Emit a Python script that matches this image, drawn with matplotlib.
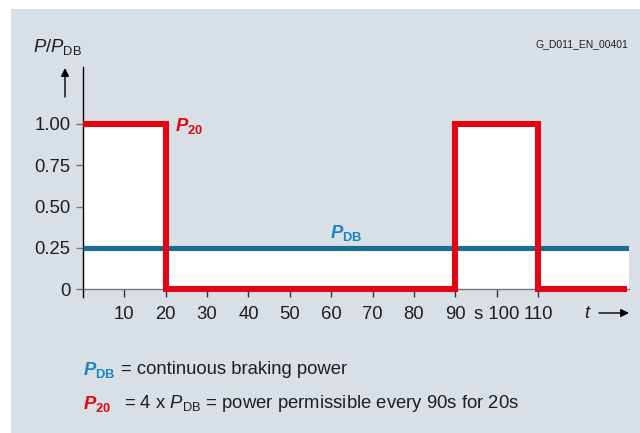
import numpy as np
import matplotlib
matplotlib.use('Agg')
import matplotlib.pyplot as plt
from matplotlib.patches import Rectangle

plt.rcParams['font.family'] = ['Liberation Sans', 'DejaVu Sans']
plt.rcParams['mathtext.fontset'] = 'custom'
plt.rcParams['mathtext.rm'] = 'Liberation Sans'
plt.rcParams['mathtext.it'] = 'Liberation Sans:italic'
plt.rcParams['mathtext.bf'] = 'Liberation Sans:bold'
plt.rcParams['mathtext.bfit'] = 'Liberation Sans:bold:italic'

# braking cycle: P20 steps between full load and zero
t_edges = [0, 20, 90, 110, 132]
p20_levels = [1.0, 0.0, 1.0, 0.0]
p_db = 0.25
x_ticks = [10, 20, 30, 40, 50, 60, 70, 80, 90, 100, 110]
x_ticklabels = ['10', '20', '30', '40', '50', '60', '70', '80', '90', 's 100', '110']
y_ticks = [0, 0.25, 0.5, 0.75, 1.0]
y_ticklabels = ['0', '0.25', '0.50', '0.75', '1.00']

RED = '#e00613'
BLUE_LINE = '#1d6c95'
BLUE_TEXT = '#1a82c6'
BG = '#d8dfe5'
TXT = '#1e1e1e'
FS = 13.3

W, H = 640, 433
fig = plt.figure(figsize=(6.4, 4.33), dpi=100)
fig.patch.set_facecolor('white')
fig.patches.append(Rectangle((11 / W, 0), 1 - 11 / W, 1 - 9 / H,
                             transform=fig.transFigure, facecolor=BG,
                             edgecolor='none', zorder=-10))

# axes placement in pixels
x0_px, px_per_t = 83, (538 - 83) / 110
y0_px, px_per_p = 289, 165
t_max = t_edges[-1]
ylo, yhi = -0.05, 1.345
ax_left = x0_px
ax_right = x0_px + t_max * px_per_t
ax_bottom = H - (y0_px - ylo * px_per_p)
ax_top = H - (y0_px - yhi * px_per_p)
ax = fig.add_axes([ax_left / W, ax_bottom / H,
                   (ax_right - ax_left) / W, (ax_top - ax_bottom) / H])
ax.set_facecolor('none')
ax.set_xlim(0, t_max)
ax.set_ylim(ylo, yhi)

t_step = np.array(t_edges, dtype=float)
p_step = np.array(p20_levels + [p20_levels[-1]], dtype=float)
upper = np.maximum(p_step, p_db)
ax.fill_between(t_step, 0, upper, step='post', color='white', lw=0, zorder=1)

ax.plot([0, t_max], [p_db, p_db], color=BLUE_LINE, lw=3.7,
        solid_capstyle='butt', zorder=3)
ax.plot(t_step[:-1].tolist() + [t_max - 0.4], p_step[:-1].tolist() + [p_step[-1]],
        drawstyle='steps-post', color=RED, lw=4.4,
        solid_joinstyle='miter', solid_capstyle='butt', zorder=4)

for s in ['top', 'right']:
    ax.spines[s].set_visible(False)
ax.spines['bottom'].set_position(('data', 0))
ax.spines['bottom'].set_color('#777777')
ax.spines['bottom'].set_linewidth(1.0)
ax.spines['bottom'].set_zorder(2)
ax.spines['left'].set_color('black')
ax.spines['left'].set_linewidth(1.0)

ax.set_xticks(x_ticks)
ax.set_xticklabels(x_ticklabels)
ax.set_yticks(y_ticks)
ax.set_yticklabels(y_ticklabels)
ax.tick_params(axis='x', direction='out', length=6, width=1, color='#333333',
               pad=6.5, labelsize=FS, labelcolor=TXT)
ax.tick_params(axis='y', direction='out', length=5, width=1, color='#777777',
               pad=4, labelsize=FS, labelcolor=TXT)

ax.text(22.3, 0.99, r'$\mathbfit{P}_{\mathbf{20}}$', color=RED, fontsize=FS,
        ha='left', va='center')
ax.text(59.8, 0.28, r'$\mathbfit{P}_{\mathbf{DB}}$', color=BLUE_TEXT, fontsize=FS,
        ha='left', va='bottom')


def px(x, y):
    return x / W, 1 - y / H


fig.text(*px(33, 47), r'$P/P_{\mathrm{DB}}$', fontsize=FS, color=TXT,
         ha='left', va='center')
fig.text(*px(628, 44), 'G_D011_EN_00401', fontsize=7.5, color=TXT,
         ha='right', va='center')
ax.annotate('', xy=px(65, 68), xytext=px(65, 97), xycoords='figure fraction',
            textcoords='figure fraction',
            arrowprops=dict(arrowstyle='-|>', color='black', lw=1,
                            mutation_scale=12, shrinkA=0, shrinkB=0))
fig.text(*px(588, 313), r'$t$', fontsize=FS, color=TXT, ha='center', va='center')
ax.annotate('', xy=px(629, 313), xytext=px(599, 313), xycoords='figure fraction',
            textcoords='figure fraction',
            arrowprops=dict(arrowstyle='-|>', color='black', lw=1,
                            mutation_scale=12, shrinkA=0, shrinkB=0))

# legend lines below the chart
fig.text(*px(83, 370), r'$\mathbfit{P}_{\mathbf{DB}}$', fontsize=FS,
         color=BLUE_TEXT, ha='left', va='center')
fig.text(*px(121, 369), '= continuous braking power', fontsize=FS,
         color=TXT, ha='left', va='center')
fig.text(*px(83, 404), r'$\mathbfit{P}_{\mathbf{20}}$', fontsize=FS,
         color=RED, ha='left', va='center')
fig.text(*px(124, 403), r'= 4 x $P_{\mathrm{DB}}$ = power permissible every 90s for 20s',
         fontsize=FS, color=TXT, ha='left', va='center')

fig.savefig('out.png', dpi=100)
